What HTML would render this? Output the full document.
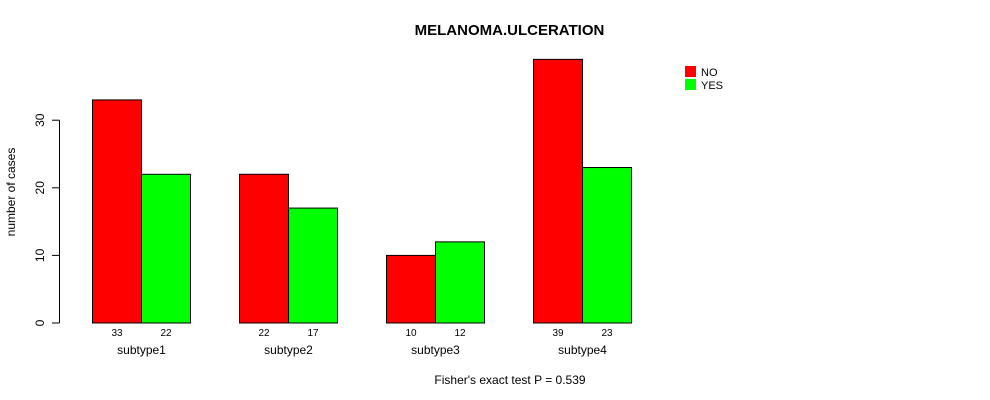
<!DOCTYPE html>
<html><head><meta charset="utf-8"><style>
body{margin:0;background:#fff}
svg{display:block;font-family:"Liberation Sans",sans-serif}
</style></head><body>
<svg width="990" height="400">
<g id="g"></g>
</svg>
<script>
const categories=["subtype1","subtype2","subtype3","subtype4"];
const noValues=[33,22,10,39];
const yesValues=[22,17,12,23];
const yTicks=[0,10,20,30];
const seriesNames=["NO","YES"];
const colors=["#ff0000","#00ff00"];
const NS="http://www.w3.org/2000/svg";
const g=document.getElementById('g');
function y(v){return 323-v*6.76;}
function x(i,s){return 92.5+i*147+s*49;}
function el(t,a,txt){const e=document.createElementNS(NS,t);for(const k in a)e.setAttribute(k,a[k]);if(txt!==undefined)e.textContent=txt;g.appendChild(e);return e;}
let e;
e=el('text',{x:509.5,y:35,'text-anchor':'middle','font-size':15,'font-weight':'bold'},'MELANOMA.ULCERATION');


e=el('line',{x1:59.5,x2:59.5,y1:y(30),y2:y(0),stroke:'#000'});


yTicks.forEach(t=>{
 e=el('line',{x1:52,x2:59.5,y1:y(t),y2:y(t),stroke:'#000'});
 
 
 e=el('text',{x:0,y:0,'text-anchor':'middle','font-size':12,transform:`translate(44,${y(t)}) rotate(-90)`},String(t));
 
 
});
e=el('text',{x:0,y:0,'text-anchor':'middle','font-size':12,transform:'translate(15,192) rotate(-90)'},'number of cases');


categories.forEach((c,i)=>{
 [noValues[i],yesValues[i]].forEach((v,s)=>{
  e=el('rect',{x:x(i,s),y:y(v),width:49,height:y(0)-y(v),fill:colors[s],stroke:'#000'});
  
  
  e=el('text',{x:x(i,s)+24.5,y:336,'text-anchor':'middle','font-size':10},String(v));
  
  
 });
 e=el('text',{x:x(i,1),y:354,'text-anchor':'middle','font-size':12},c);
 
 
});
e=el('text',{x:510,y:384,'text-anchor':'middle','font-size':12},"Fisher's exact test P = 0.539");


seriesNames.forEach((n,s)=>{
 e=el('rect',{x:685,y:66+s*13,width:11,height:11,fill:colors[s]});
 
 
 e=el('text',{x:701,y:76+s*13,'font-size':11},n);
 
 
});
</script>
</body></html>
